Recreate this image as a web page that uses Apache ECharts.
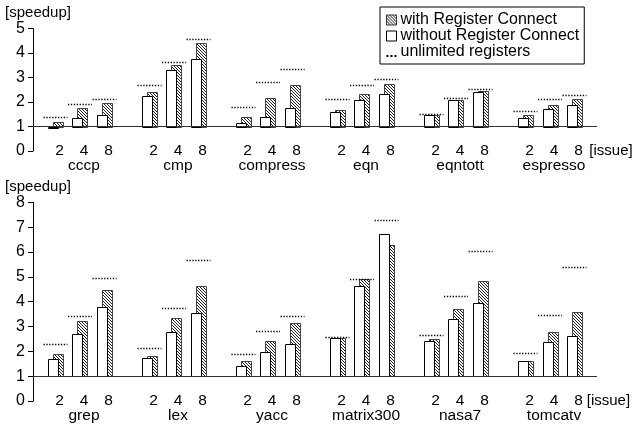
<!DOCTYPE html>
<html>
<head>
<meta charset="utf-8">
<script src="https://cdn.jsdelivr.net/npm/echarts@6/dist/echarts.min.js"></script>
<style>
  html, body { margin: 0; padding: 0; background: #fff; }
  #chart { width: 634px; height: 425px; }
</style>
</head>
<body>
<div id="chart"></div>
<script>
  const benchTop = ['cccp', 'cmp', 'compress', 'eqn', 'eqntott', 'espresso'];
  const benchBottom = ['grep', 'lex', 'yacc', 'matrix300', 'nasa7', 'tomcatv'];
  const issues = ['2', '4', '8'];

  // speedups, 3 issue widths per benchmark
  const withTop = [1.20, 1.77, 1.97, 2.39, 3.50, 4.40, 1.37, 2.16, 2.71, 1.66, 2.31, 2.72, 1.47, 2.10, 2.45, 1.46, 1.89, 2.11];
  const withoutTop = [0.96, 1.33, 1.47, 2.24, 3.31, 3.77, 1.13, 1.37, 1.77, 1.60, 2.08, 2.34, 1.47, 2.08, 2.42, 1.36, 1.70, 1.87];
  const unlimTop = [1.40, 1.92, 2.13, 2.69, 3.62, 4.56, 1.80, 2.83, 3.36, 2.11, 2.69, 2.95, 1.51, 2.18, 2.52, 1.63, 2.11, 2.27];
  const withBottom = [1.90, 3.21, 4.47, 1.82, 3.35, 4.64, 1.60, 2.43, 3.14, 2.55, 4.90, 6.28, 2.51, 3.70, 4.83, 1.61, 2.77, 3.57];
  const withoutBottom = [1.69, 2.70, 3.77, 1.74, 2.77, 3.56, 1.42, 1.96, 2.29, 2.55, 4.64, 6.74, 2.42, 3.29, 3.96, 1.61, 2.36, 2.62];
  const unlimBottom = [2.29, 3.41, 4.94, 2.15, 3.73, 5.66, 1.89, 2.83, 3.42, 2.57, 4.91, 7.30, 2.66, 4.24, 6.04, 1.92, 3.46, 5.41];

  const yMaxTop = 5;
  const yMaxBottom = 8;
  const baseValue = 1;

  const NAMES = ['with Register Connect', 'without Register Connect', 'unlimited registers'];
  const FONT = "'Liberation Sans', Arial, Helvetica, sans-serif";

  // each benchmark gets SLOTS narrow categories, issue widths sit on ISSUE_SLOTS
  const SLOTS = 23;
  const ISSUE_SLOTS = [5, 11, 17];

  function buildCats(bench) {
    const cats = [];
    bench.forEach((b, g) => {
      for (let s = 0; s < SLOTS; s++) {
        const i = ISSUE_SLOTS.indexOf(s);
        cats.push(i < 0 ? `_${g}_${s}` : `${b}|${issues[i]}`);
      }
    });
    return cats;
  }

  function pairs(bench, vals) {
    const out = [];
    bench.forEach((b, g) => issues.forEach((iss, i) => out.push([`${b}|${iss}`, vals[g * 3 + i]])));
    return out;
  }

  function makeHatch() {
    const c = document.createElement('canvas');
    c.width = 3; c.height = 3;
    const ctx = c.getContext('2d');
    ctx.fillStyle = '#fff';
    ctx.fillRect(0, 0, 3, 3);
    ctx.fillStyle = '#1e1e1e';
    for (let i = 0; i < 3; i++) ctx.fillRect(i, i, 1, 1);
    return c;
  }
  const hatch = { image: makeHatch(), repeat: 'repeat' };

  function barRenderer(offset, fill, stroke) {
    return function (params, api) {
      const base = api.coord([api.value(0), baseValue]);
      const top = api.coord([api.value(0), api.value(1)]);
      const x = Math.round(base[0] + offset) + 0.5;
      const y0 = Math.round(Math.min(base[1], top[1])) + 0.5;
      const y1 = Math.round(Math.max(base[1], top[1])) + 0.5;
      return {
        type: 'rect',
        shape: { x: x, y: y0, width: 10, height: Math.max(y1 - y0, 1) },
        style: { fill: fill, stroke: stroke, lineWidth: 1 }
      };
    };
  }

  function dotRenderer(params, api) {
    const p = api.coord([api.value(0), api.value(1)]);
    const y = Math.round(p[1]) + 0.5;
    return {
      type: 'line',
      shape: { x1: p[0] - 12, y1: y, x2: p[0] + 12, y2: y },
      style: { stroke: '#000', lineWidth: 1.3, lineDash: [1.3, 1.6] }
    };
  }

  function labelFmt(v) {
    if (v.indexOf('|') < 0) return '';
    const [b, iss] = v.split('|');
    return iss === '4' ? `{i|${iss}}\n{n|${b}}` : `{i|${iss}}`;
  }

  const chart = echarts.init(document.getElementById('chart'), null, { renderer: 'canvas' });

  const panels = [
    { bench: benchTop, w: withTop, wo: withoutTop, u: unlimTop, max: yMaxTop, grid: { left: 33, right: 37, top: 28.5, bottom: 274 } },
    { bench: benchBottom, w: withBottom, wo: withoutBottom, u: unlimBottom, max: yMaxBottom, grid: { left: 33, right: 37, top: 202.3, bottom: 24 } }
  ];

  const grid = [], xAxis = [], yAxis = [], series = [];
  panels.forEach((p, k) => {
    grid.push(p.grid);
    xAxis.push({
      type: 'category', gridIndex: k, data: buildCats(p.bench), boundaryGap: true,
      axisLine: { show: false }, axisTick: { show: false },
      name: '[issue]', nameLocation: 'end', nameGap: -14,
      nameTextStyle: { fontSize: 15, color: '#000', fontFamily: FONT, verticalAlign: 'middle', align: 'left' },
      axisLabel: {
        interval: 0, margin: -7.5, formatter: labelFmt, padding: [0, 0, 0, 8],
        rich: {
          i: { fontSize: 15.5, lineHeight: 15, color: '#000', fontFamily: FONT },
          n: { fontSize: 15.5, lineHeight: 15, color: '#000', fontFamily: FONT }
        }
      }
    });
    yAxis.push({
      type: 'value', gridIndex: k, min: 0, max: p.max, interval: 1,
      name: '[speedup]', nameLocation: 'end', nameGap: 4,
      nameTextStyle: { fontSize: 15, color: '#000', fontFamily: FONT, align: 'center', padding: [0, 0, 0, 10] },
      axisLine: { show: true, lineStyle: { color: '#000', width: 1 } },
      axisTick: { show: true, length: 5, lineStyle: { color: '#000' } },
      splitLine: { show: false },
      axisLabel: { margin: 8, fontSize: 16, color: '#000', fontFamily: FONT }
    });
    series.push({
      name: NAMES[0], type: 'custom', xAxisIndex: k, yAxisIndex: k, z: 2,
      itemStyle: { color: '#777' },
      renderItem: barRenderer(-2.5, hatch, '#444'),
      data: pairs(p.bench, p.w),
      markLine: {
        silent: true, symbol: 'none', label: { show: false },
        lineStyle: { color: '#333', width: 1, type: 'solid' },
        data: [{ yAxis: baseValue }]
      }
    });
    series.push({
      name: NAMES[1], type: 'custom', xAxisIndex: k, yAxisIndex: k, z: 3,
      itemStyle: { color: '#fff' },
      renderItem: barRenderer(-7.5, '#fff', '#000'),
      data: pairs(p.bench, p.wo)
    });
    series.push({
      name: NAMES[2], type: 'custom', xAxisIndex: k, yAxisIndex: k, z: 4,
      itemStyle: { color: '#000' },
      renderItem: dotRenderer,
      data: pairs(p.bench, p.u)
    });
  });

  chart.setOption({
    animation: false,
    backgroundColor: '#fff',
    textStyle: { fontFamily: FONT },
    grid: grid,
    xAxis: xAxis,
    yAxis: yAxis,
    legend: {
      orient: 'vertical', left: 380, top: 7,
      padding: [5, 5, 4, 6], itemGap: 0, itemWidth: 10, itemHeight: 10,
      borderColor: '#000', borderWidth: 1, backgroundColor: '#fff',
      selectedMode: false,
      textStyle: { fontSize: 16, lineHeight: 15, color: '#000', fontFamily: FONT, padding: [0, 0, 0, -1] },
      data: [
        { name: NAMES[0], icon: 'rect', itemStyle: { color: hatch, borderColor: '#333', borderWidth: 1 } },
        { name: NAMES[1], icon: 'rect', itemStyle: { color: '#fff', borderColor: '#000', borderWidth: 1 } },
        { name: NAMES[2], icon: 'path://M0,0h0.01v0.01h-0.01z M0,8h2v2h-2z M4,8h2v2h-2z M8,8h2v2h-2z', itemStyle: { color: '#000', borderWidth: 0 } }
      ]
    },
    series: series
  });
</script>
</body>
</html>
